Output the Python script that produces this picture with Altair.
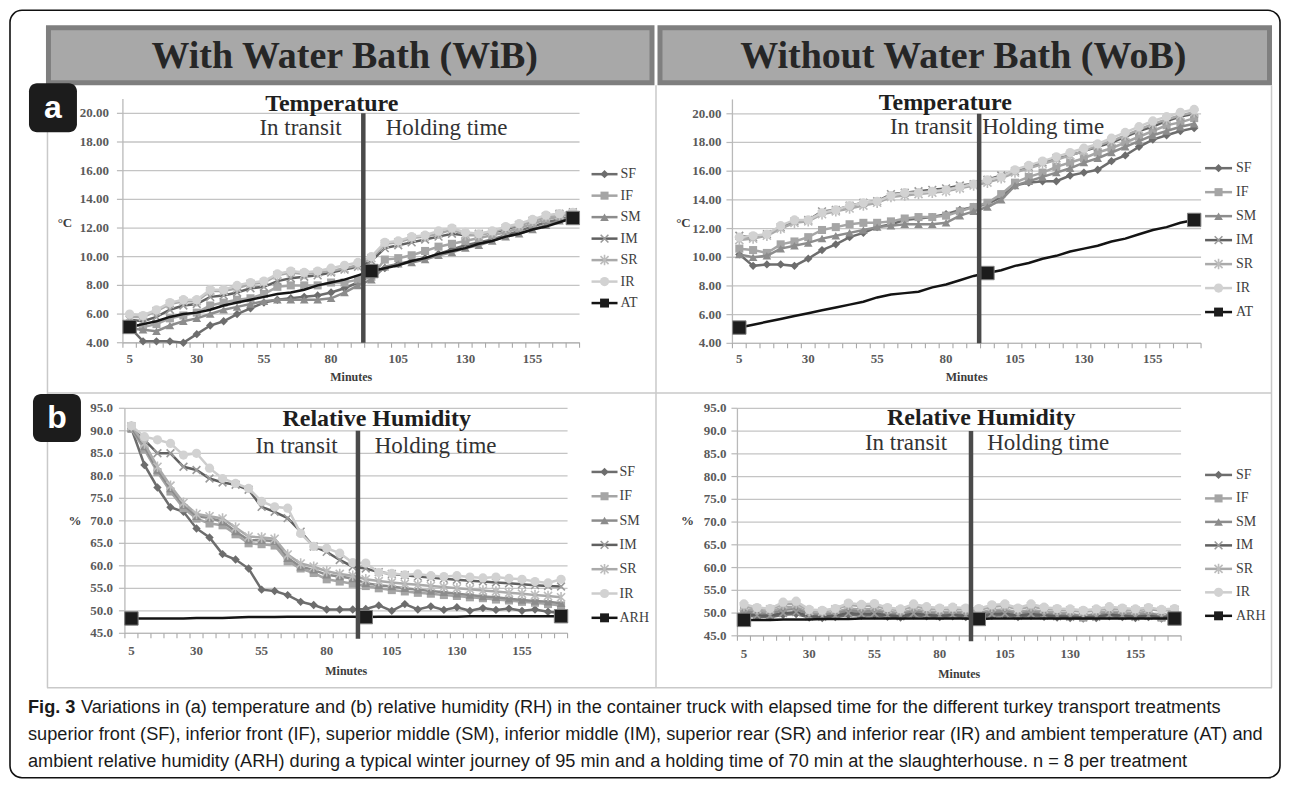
import altair as alt
import pandas as pd

# ---------------- data ----------------
MINUTES = [5, 10, 15, 20, 25, 30, 35, 40, 45, 50, 55, 60, 65, 70, 75, 80, 85,
           90, 95, 100, 105, 110, 115, 120, 125, 130, 135, 140, 145, 150, 155,
           160, 165, 170]
SERIES = ["SF", "IF", "SM", "IM", "SR", "IR"]
AMB_MARK_MINUTES = [5, 95, 170]
TRANSIT_END = 92
X_LABEL_TICKS = [5, 30, 55, 80, 105, 130, 155]
TEMP_TICKS = [4, 6, 8, 10, 12, 14, 16, 18, 20]
RH_TICKS = [45, 50, 55, 60, 65, 70, 75, 80, 85, 90, 95]

# Temperature, with water bath
TL_SF = [5.1, 4.1, 4.1, 4.1, 4.0, 4.6, 5.2, 5.5, 6.0, 6.4, 6.8, 7.0, 7.1, 7.2, 7.3, 7.5, 7.8, 8.2, 8.7, 9.2,
         9.5, 9.7, 9.9, 10.2, 10.5, 10.8, 11.0, 11.2, 11.5, 11.8, 12.1, 12.4, 12.6, 12.8]
TL_IF = [5.3, 5.1, 5.3, 5.7, 5.9, 6.1, 6.6, 6.8, 7.0, 7.1, 7.4, 7.9, 8.0, 8.0, 8.0, 8.2, 8.2, 8.4, 8.6, 9.8,
         9.9, 10.1, 10.4, 10.7, 10.9, 11.1, 11.3, 11.5, 11.7, 12.0, 12.3, 12.6, 12.8, 13.0]
TL_SM = [5.0, 4.9, 4.8, 5.2, 5.5, 5.7, 6.0, 6.3, 6.5, 6.7, 6.9, 7.0, 7.0, 7.0, 7.0, 7.1, 7.5, 8.0, 8.4, 9.3,
         9.5, 9.6, 9.8, 10.1, 10.3, 10.6, 10.8, 11.1, 11.4, 11.6, 11.9, 12.2, 12.5, 12.8]
TL_IM = [5.6, 5.5, 5.8, 6.3, 6.6, 6.7, 7.2, 7.3, 7.5, 7.8, 7.9, 8.3, 8.5, 8.6, 8.7, 8.9, 9.1, 9.3, 9.7, 10.6,
         10.8, 11.0, 11.2, 11.4, 11.6, 11.5, 11.6, 11.7, 11.9, 12.2, 12.5, 12.8, 13.0, 13.1]
TL_SR = [5.8, 5.8, 6.2, 6.7, 6.9, 6.9, 7.6, 7.6, 7.8, 8.1, 8.2, 8.7, 8.9, 8.8, 8.9, 9.0, 9.2, 9.4, 9.9, 10.9,
         11.0, 11.3, 11.4, 11.6, 11.9, 11.5, 11.5, 11.7, 12.0, 12.2, 12.5, 12.8, 12.9, 13.0]
TL_IR = [6.0, 5.9, 6.3, 6.8, 7.0, 7.0, 7.7, 7.7, 8.0, 8.2, 8.3, 8.8, 9.0, 8.9, 9.0, 9.2, 9.4, 9.6, 10.0, 11.0,
         11.1, 11.4, 11.5, 11.8, 12.0, 11.7, 11.6, 11.8, 12.1, 12.3, 12.6, 12.9, 13.0, 13.1]
TL_AT = [5.1, 5.3, 5.5, 5.8, 6.0, 6.1, 6.3, 6.6, 6.8, 7.0, 7.2, 7.4, 7.5, 7.7, 8.0, 8.2, 8.4, 8.7, 9.0, 9.2,
         9.4, 9.7, 9.9, 10.2, 10.4, 10.6, 10.9, 11.1, 11.4, 11.6, 11.9, 12.1, 12.4, 12.7]

# Temperature, without water bath
TR_SF = [10.2, 9.4, 9.5, 9.5, 9.4, 9.9, 10.5, 10.9, 11.4, 11.7, 12.1, 12.3, 12.6, 12.7, 12.8, 13.0, 13.3, 13.5,
         13.7, 14.2, 15.0, 15.2, 15.3, 15.3, 15.7, 15.9, 16.1, 16.7, 17.1, 17.7, 18.2, 18.5, 18.8, 19.0]
TR_IF = [10.6, 10.5, 10.3, 10.9, 11.1, 11.4, 11.9, 12.1, 12.3, 12.4, 12.4, 12.5, 12.7, 12.8, 12.8, 12.9, 13.2,
         13.5, 13.8, 14.4, 15.2, 15.6, 15.9, 16.3, 16.6, 16.9, 17.3, 17.6, 18.0, 18.4, 18.8, 19.2, 19.4, 19.7]
TR_SM = [10.2, 10.0, 10.1, 10.6, 10.8, 11.0, 11.3, 11.5, 11.7, 11.9, 12.1, 12.2, 12.3, 12.3, 12.3, 12.4, 12.9,
         13.2, 13.5, 14.0, 15.0, 15.3, 15.6, 15.9, 16.2, 16.6, 16.9, 17.3, 17.7, 18.1, 18.5, 18.8, 19.1, 19.3]
TR_IM = [11.5, 11.4, 11.6, 12.1, 12.5, 12.6, 13.2, 13.3, 13.6, 13.8, 13.9, 14.4, 14.5, 14.6, 14.7, 14.8, 15.0,
         15.1, 15.4, 15.7, 16.0, 16.3, 16.6, 16.9, 17.1, 17.4, 17.7, 18.0, 18.4, 18.8, 19.1, 19.5, 19.8, 20.0]
TR_SR = [11.2, 11.3, 11.5, 12.0, 12.4, 12.5, 13.0, 13.2, 13.4, 13.6, 13.8, 14.2, 14.3, 14.4, 14.5, 14.6, 14.8,
         15.0, 15.2, 15.5, 15.9, 16.2, 16.5, 16.8, 17.1, 17.4, 17.8, 18.1, 18.5, 18.9, 19.3, 19.6, 19.9, 20.1]
TR_IR = [11.4, 11.5, 11.6, 12.2, 12.6, 12.6, 13.1, 13.3, 13.6, 13.8, 13.9, 14.3, 14.5, 14.5, 14.6, 14.7, 14.9,
         15.1, 15.4, 15.6, 16.1, 16.4, 16.7, 17.0, 17.3, 17.6, 17.9, 18.3, 18.7, 19.1, 19.5, 19.8, 20.1, 20.3]
TR_AT = [5.1, 5.3, 5.5, 5.7, 5.9, 6.1, 6.3, 6.5, 6.7, 6.9, 7.2, 7.4, 7.5, 7.6, 7.9, 8.1, 8.4, 8.7, 8.9, 9.1,
         9.4, 9.6, 9.9, 10.1, 10.4, 10.6, 10.8, 11.1, 11.3, 11.6, 11.9, 12.1, 12.4, 12.6]

# Relative humidity, with water bath
BL_SF = [90.5, 82.4, 77.4, 73.0, 72.0, 68.3, 66.3, 62.6, 61.4, 59.4, 54.7, 54.4, 53.5, 52.0, 51.3, 50.3, 50.3,
         50.3, 50.4, 51.2, 50.0, 51.5, 50.3, 51.0, 50.2, 50.8, 50.0, 50.6, 50.2, 50.5, 50.0, 50.3, 49.8, 49.5]
BL_IF = [90.4, 85.8, 80.8, 76.5, 72.8, 70.5, 69.4, 69.0, 67.0, 65.0, 64.8, 64.5, 61.0, 59.4, 58.4, 57.0, 56.5,
         56.0, 55.5, 55.0, 54.6, 54.3, 54.0, 53.8, 53.5, 53.3, 53.0, 52.8, 52.5, 52.3, 52.0, 51.8, 51.5, 51.2]
BL_SM = [90.6, 86.5, 81.3, 77.2, 73.5, 71.0, 70.6, 69.8, 67.6, 65.7, 65.7, 65.5, 61.7, 59.8, 59.1, 58.0, 57.6,
         57.2, 56.1, 55.7, 55.4, 55.0, 54.7, 54.4, 54.1, 53.8, 53.5, 53.2, 53.0, 52.7, 52.4, 52.2, 52.0, 51.7]
BL_IM = [90.8, 88.0, 85.0, 85.0, 82.0, 81.3, 79.4, 78.5, 78.0, 76.9, 73.1, 72.0, 70.6, 67.6, 64.3, 63.1, 61.3,
         59.8, 59.4, 58.6, 58.2, 57.9, 57.6, 57.4, 57.1, 56.9, 56.7, 56.5, 56.3, 56.1, 55.9, 55.7, 55.5, 55.4]
BL_SR = [91.0, 87.2, 82.0, 77.8, 74.0, 71.5, 71.0, 70.5, 68.5, 66.5, 66.3, 66.0, 62.5, 60.5, 59.8, 58.8, 58.2,
         57.8, 57.0, 56.6, 56.3, 56.0, 55.8, 55.5, 55.3, 55.0, 54.8, 54.5, 54.3, 54.0, 53.8, 53.5, 53.3, 53.0]
BL_IR = [91.1, 88.7, 88.0, 87.2, 84.6, 85.0, 81.7, 79.4, 78.3, 77.2, 74.3, 73.1, 72.8, 67.2, 64.3, 63.9, 62.8,
         60.7, 60.6, 58.5, 58.3, 58.0, 58.2, 57.8, 57.6, 57.8, 57.5, 57.3, 57.5, 57.2, 57.0, 56.5, 56.2, 57.0]
BL_ARH = [48.3, 48.3, 48.3, 48.3, 48.3, 48.4, 48.4, 48.4, 48.5, 48.6, 48.6, 48.6, 48.7, 48.7, 48.7, 48.7, 48.7,
          48.7, 48.6, 48.7, 48.7, 48.7, 48.7, 48.7, 48.7, 48.7, 48.8, 48.8, 48.8, 48.8, 48.8, 48.8, 48.8, 48.8]

# Relative humidity, without water bath
BR_SF = [49.5, 49.2, 49.1, 49.6, 49.8, 49.0, 48.9, 49.1, 49.6, 49.4, 49.5, 49.2, 49.0, 49.5, 49.3, 49.1, 49.3,
         49.1, 49.0, 49.4, 49.5, 49.1, 49.4, 49.2, 49.0, 48.9, 48.8, 48.9, 49.3, 49.1, 48.9, 49.1, 48.8, 49.0]
BR_IF = [50.8, 50.5, 50.3, 51.2, 51.4, 50.0, 49.8, 50.2, 51.0, 50.8, 50.9, 50.3, 50.0, 50.8, 50.4, 50.2, 50.4,
         50.2, 50.1, 50.7, 50.8, 50.2, 50.7, 50.3, 50.1, 50.0, 49.0, 50.0, 50.4, 50.2, 50.0, 50.3, 49.0, 50.1]
BR_SM = [50.4, 50.0, 49.8, 50.7, 50.9, 49.7, 49.5, 49.8, 50.6, 50.3, 50.5, 49.9, 49.7, 50.4, 50.0, 49.8, 50.0,
         49.8, 49.7, 50.3, 50.4, 49.8, 50.3, 49.9, 49.7, 49.6, 49.4, 49.6, 50.0, 49.8, 49.6, 49.8, 49.5, 49.7]
BR_IM = [49.8, 49.5, 49.4, 50.0, 50.2, 49.3, 49.2, 49.4, 50.0, 49.8, 49.9, 49.5, 49.3, 49.9, 49.6, 49.4, 49.6,
         49.4, 49.3, 49.8, 49.9, 49.4, 49.8, 49.5, 49.3, 49.2, 49.1, 49.2, 49.6, 49.4, 49.2, 49.4, 49.1, 49.3]
BR_SR = [51.5, 50.9, 50.8, 51.9, 52.1, 50.5, 50.3, 50.8, 51.8, 51.5, 51.6, 50.9, 50.6, 51.5, 51.0, 50.8, 51.0,
         50.8, 50.7, 51.4, 51.6, 50.8, 51.5, 50.9, 50.7, 50.6, 50.3, 50.6, 51.0, 50.8, 50.6, 50.9, 50.5, 50.7]
BR_IR = [52.0, 51.2, 51.0, 52.4, 52.6, 50.8, 50.6, 51.0, 52.2, 51.9, 52.1, 51.2, 50.9, 52.0, 51.4, 51.1, 51.3,
         51.1, 51.0, 51.8, 52.0, 51.1, 52.0, 51.3, 51.0, 50.9, 50.6, 50.9, 51.4, 51.1, 50.9, 51.2, 50.8, 51.0]
BR_ARH = [48.5, 48.5, 48.5, 48.6, 48.6, 48.6, 48.7, 48.7, 48.7, 48.8, 48.8, 48.8, 48.8, 48.8, 48.8, 48.8, 48.8,
          48.8, 48.7, 48.8, 48.8, 48.8, 48.8, 48.8, 48.8, 48.8, 48.8, 48.8, 48.8, 48.8, 48.8, 48.8, 48.8, 48.8]

HEADER_LEFT = "With Water Bath (WiB)"
HEADER_RIGHT = "Without Water Bath (WoB)"
CAP_BOLD = "Fig. 3"
CAP_L1 = ("Variations in (a) temperature and (b) relative humidity (RH) in the container truck with "
          "elapsed time for the different turkey transport treatments")
CAP_L2 = ("superior front (SF), inferior front (IF), superior middle (SM), inferior middle (IM), superior "
          "rear (SR) and inferior rear (IR) and ambient temperature (AT) and")
CAP_L3 = ("ambient relative humidity (ARH) during a typical winter journey of 95 min and a holding time "
          "of 70 min at the slaughterhouse. n = 8 per treatment")

# ---------------- styling / layout ----------------
SERIF = "Liberation Serif"
SANS = "Liberation Sans"
W, H = 1271, 768
OX, OY = 10, 10


def px(x):
    return x - OX


def py(y):
    return y - OY


X_PATH = "M-1,-1L1,1M-1,1L1,-1"
AST_PATH = "M-1,-1L1,1M-1,1L1,-1M0,-1.3L0,1.3"
STYLE = {
    "SF": dict(line="#6d6d6d", marker="#6d6d6d", shape="diamond", size=70, filled=True),
    "IF": dict(line="#a5a5a5", marker="#a5a5a5", shape="square", size=65, filled=True),
    "SM": dict(line="#8c8c8c", marker="#8c8c8c", shape="triangle-up", size=75, filled=True),
    "IM": dict(line="#606060", marker="#9a9a9a", shape=X_PATH, size=60, filled=False),
    "SR": dict(line="#aaaaaa", marker="#bdbdbd", shape=AST_PATH, size=65, filled=False),
    "IR": dict(line="#cdcdcd", marker="#d2d2d2", shape="circle", size=85, filled=True),
}
AMB_STYLE = dict(line="#141414", marker="#1c1c1c", shape="square", size=180, filled=True)
GRID = "#c4c4c4"
AXIS_C = "#b9b9b9"
LABEL_C = "#5a5a5a"
DUMMY = pd.DataFrame({"k": [0]})

PANELS = [
    dict(data=dict(SF=TL_SF, IF=TL_IF, SM=TL_SM, IM=TL_IM, SR=TL_SR, IR=TL_IR), amb=TL_AT, amb_name="AT",
         x0=123, x1=580, yb=342.7, yt=98.75, ydom=[4, 21], ticks=TEMP_TICKS, fmt=".2f", lpad=8,
         ytitle="°C", ytx=65, yty=223, xlab=16, xtit=34, vtop=20, vbot=4,
         title="Temperature", tcx=332, tby=111, itx=342, hx=386, iby=135,
         ly0=174, ly1=303, lx0=592, lx1=618, ltx=621),
    dict(data=dict(SF=TR_SF, IF=TR_IF, SM=TR_SM, IM=TR_IM, SR=TR_SR, IR=TR_IR), amb=TR_AT, amb_name="AT",
         x0=733, x1=1202, yb=343.3, yt=99.2, ydom=[4, 21], ticks=TEMP_TICKS, fmt=".2f", lpad=5,
         ytitle="°C", ytx=684, yty=223, xlab=16, xtit=34, vtop=20, vbot=4,
         title="Temperature", tcx=946, tby=110, itx=973, hx=983, iby=134,
         ly0=168, ly1=312, lx0=1206, lx1=1233, ltx=1237),
    dict(data=dict(SF=BL_SF, IF=BL_IF, SM=BL_SM, IM=BL_IM, SR=BL_SR, IR=BL_IR), amb=BL_ARH, amb_name="ARH",
         x0=125, x1=568, yb=633.5, yt=408.3, ydom=[45, 95], ticks=RH_TICKS, fmt=".1f", lpad=6,
         ytitle="%", ytx=75, yty=521, xlab=18, xtit=38, vtop=90, vbot=43.8,
         title="Relative Humidity", tcx=377, tby=426, itx=338, hx=375, iby=453,
         ly0=472, ly1=618, lx0=592, lx1=618, ltx=620),
    dict(data=dict(SF=BR_SF, IF=BR_IF, SM=BR_SM, IM=BR_IM, SR=BR_SR, IR=BR_IR), amb=BR_ARH, amb_name="ARH",
         x0=738, x1=1182, yb=636, yt=408.3, ydom=[45, 95], ticks=RH_TICKS, fmt=".1f", lpad=5,
         ytitle="%", ytx=688, yty=521, xlab=18, xtit=38, vtop=90, vbot=43.8,
         title="Relative Humidity", tcx=982, tby=425, itx=948, hx=988, iby=450,
         ly0=475, ly1=616, lx0=1206, lx1=1233, ltx=1237),
]


def txt(text, x, y, size, weight="normal", align="left", baseline="alphabetic", font=SERIF,
        color="#222222", style="normal"):
    return alt.Chart(DUMMY).mark_text(
        text=text, font=font, fontSize=size, fontWeight=weight, align=align,
        baseline=baseline, color=color, fontStyle=style,
    ).encode(x=alt.value(px(x)), y=alt.value(py(y)))


def box(x1, y1, x2, y2, fill, stroke=None, sw=0, r=0):
    kw = dict(fill=fill, cornerRadius=r)
    if stroke:
        kw.update(stroke=stroke, strokeWidth=sw)
    return alt.Chart(DUMMY).mark_rect(**kw).encode(
        x=alt.value(px(x1)), x2=alt.value(px(x2)), y=alt.value(py(y1)), y2=alt.value(py(y2)))


def hrule(x1, x2, y, color, sw):
    return alt.Chart(DUMMY).mark_rule(color=color, strokeWidth=sw).encode(
        x=alt.value(px(x1)), x2=alt.value(px(x2)), y=alt.value(py(y)))


def vrule(x, y1, y2, color, sw):
    return alt.Chart(DUMMY).mark_rule(color=color, strokeWidth=sw).encode(
        x=alt.value(px(x)), y=alt.value(py(y1)), y2=alt.value(py(y2)))


def build_panel(p):
    xs = alt.Scale(domain=[2.5, 172.5], range=[px(p["x0"]), px(p["x1"])], nice=False, zero=False)
    ys = alt.Scale(domain=p["ydom"], range=[py(p["yb"]), py(p["yt"])], nice=False, zero=False)
    layers = []
    grid_df = pd.DataFrame({"tick": p["ticks"]})
    gy = alt.Y("tick:Q", scale=ys, axis=None)
    # horizontal gridlines
    layers.append(alt.Chart(grid_df).mark_rule(color=GRID, strokeWidth=1.3).encode(
        y=gy,
        x=alt.X(datum=2.5, type="quantitative", scale=xs, axis=None),
        x2=alt.X2(datum=172.5),
    ))
    # y tick marks, labels and axis line
    layers.append(alt.Chart(grid_df).mark_rule(color=AXIS_C, strokeWidth=1.2).encode(
        y=gy, x=alt.value(px(p["x0"] - 6)), x2=alt.value(px(p["x0"]))))
    layers.append(alt.Chart(grid_df).transform_calculate(
        lab=f"format(datum.tick, '{p['fmt']}')"
    ).mark_text(align="right", baseline="middle", font=SERIF, fontSize=13, fontWeight="bold",
                color=LABEL_C).encode(y=gy, x=alt.value(px(p["x0"] - 6 - p["lpad"])), text="lab:N"))
    layers.append(alt.Chart(DUMMY).mark_rule(color=AXIS_C, strokeWidth=1.3).encode(
        x=alt.value(px(p["x0"])),
        y=alt.Y(datum=p["ydom"][0], type="quantitative", scale=ys, axis=None),
        y2=alt.Y2(datum=p["ydom"][1])))
    # x axis line, minor tick marks at category boundaries and labels
    layers.append(alt.Chart(DUMMY).mark_rule(color=AXIS_C, strokeWidth=1.3).encode(
        y=alt.Y(datum=p["ydom"][0], type="quantitative", scale=ys, axis=None),
        x=alt.X(datum=2.5, type="quantitative", scale=xs, axis=None),
        x2=alt.X2(datum=172.5)))
    bdf = pd.DataFrame({"b": [m - 2.5 for m in MINUTES] + [MINUTES[-1] + 2.5]})
    layers.append(alt.Chart(bdf).mark_rule(color="#a9a9a9", strokeWidth=1.1).encode(
        x=alt.X("b:Q", scale=xs, axis=None), y=alt.value(py(p["yb"])), y2=alt.value(py(p["yb"]) + 5)))
    xl_df = pd.DataFrame({"t": X_LABEL_TICKS})
    layers.append(alt.Chart(xl_df).mark_text(
        align="center", baseline="middle", font=SERIF, fontSize=13, fontWeight="bold", color=LABEL_C
    ).encode(x=alt.X("t:Q", scale=xs, axis=None), y=alt.value(py(p["yb"] + p["xlab"])), text="t:N"))

    for s in SERIES:
        st = STYLE[s]
        df = pd.DataFrame({"minute": MINUTES, "value": p["data"][s]})
        base = alt.Chart(df).encode(x=alt.X("minute:Q", scale=xs, axis=None),
                                    y=alt.Y("value:Q", scale=ys, axis=None))
        layers.append(base.mark_line(color=st["line"], strokeWidth=2.5))
        layers.append(base.mark_point(shape=st["shape"], size=st["size"], filled=st["filled"],
                                      color=st["marker"], opacity=1, strokeWidth=1.6))
    amb_df = pd.DataFrame({"minute": MINUTES, "value": p["amb"]})
    amb_base = alt.Chart(amb_df).encode(x=alt.X("minute:Q", scale=xs, axis=None),
                                        y=alt.Y("value:Q", scale=ys, axis=None))
    layers.append(amb_base.mark_line(color=AMB_STYLE["line"], strokeWidth=2.5))
    layers.append(amb_base.transform_filter(
        alt.FieldOneOfPredicate(field="minute", oneOf=AMB_MARK_MINUTES)
    ).mark_square(size=AMB_STYLE["size"], color=AMB_STYLE["marker"], stroke="#808080",
                  strokeWidth=1, opacity=1))
    vdf = pd.DataFrame({"minute": [TRANSIT_END]})
    layers.append(alt.Chart(vdf).mark_rule(color="#4a4a4a", strokeWidth=4.5).encode(
        x=alt.X("minute:Q", scale=xs, axis=None),
        y=alt.Y(datum=p["vtop"], type="quantitative", scale=ys, axis=None),
        y2=alt.Y2(datum=p["vbot"]),
    ))
    return alt.layer(*layers)


def build_legend(p):
    names = SERIES + [p["amb_name"]]
    ly = alt.Scale(type="point", domain=names, range=[py(p["ly0"]), py(p["ly1"])], padding=0)
    layers = []
    mid = (p["lx0"] + p["lx1"]) / 2
    for n in names:
        st = STYLE.get(n, AMB_STYLE)
        d = pd.DataFrame({"name": [n]})
        b = alt.Chart(d).encode(y=alt.Y("name:N", scale=ly, axis=None))
        layers.append(b.mark_rule(color=st["line"], strokeWidth=2.5).encode(
            x=alt.value(px(p["lx0"])), x2=alt.value(px(p["lx1"]))))
        size = st["size"] if n in STYLE else 80
        layers.append(b.mark_point(shape=st["shape"], size=size, filled=st["filled"], color=st["marker"],
                                   opacity=1, strokeWidth=1.6).encode(x=alt.value(px(mid))))
        layers.append(b.mark_text(align="left", baseline="middle", font=SERIF, fontSize=14,
                                  color="#404040").encode(x=alt.value(px(p["ltx"])), text="name:N"))
    return alt.layer(*layers)


# ---------------- assemble ----------------
back = [
    box(48.5, 27.5, 652.5, 82.5, "#a8a8a8", "#7f7f7f", 5),
    box(660.5, 27.5, 1270.5, 82.5, "#a8a8a8", "#7f7f7f", 5),
    txt(HEADER_LEFT, 345, 68, 38, "bold", "center", color="#262626"),
    txt(HEADER_RIGHT, 964, 68, 38, "bold", "center", color="#262626"),
    vrule(47.5, 85, 688, "#c9c9c9", 1.5),
    vrule(656.5, 85, 688, "#c9c9c9", 1.5),
    vrule(1272.5, 85, 688, "#c9c9c9", 1.5),
    hrule(47, 1273, 393, "#c9c9c9", 1.5),
    hrule(47, 1273, 688, "#c9c9c9", 1.5),
]

panels = []
for p in PANELS:
    panels.append(build_panel(p))
    panels.append(build_legend(p))

front = []
for p in PANELS:
    front.append(txt(p["title"], p["tcx"], p["tby"], 24, "bold", "center", color="#1e1e1e"))
    front.append(txt("In transit", p["itx"], p["iby"], 23, "normal", "right", color="#333333"))
    front.append(txt("Holding time", p["hx"], p["iby"], 23, "normal", "left", color="#333333"))
    front.append(txt(p["ytitle"], p["ytx"], p["yty"], 13, "bold", "center", "middle", color="#3c3c3c"))
    front.append(txt("Minutes", (p["x0"] + p["x1"]) / 2, p["yb"] + p["xtit"], 12, "bold", "center",
                     "middle", color="#3c3c3c"))

CAP_SIZE = 18.2
front += [
    box(29, 83, 77, 132, "#1c1c1c", r=8),
    txt("a", 53, 108, 32, "bold", "center", "middle", SANS, "#ffffff"),
    box(33, 394, 81, 442, "#1c1c1c", r=8),
    txt("b", 57, 418, 32, "bold", "center", "middle", SANS, "#ffffff"),
    txt(CAP_BOLD, 28, 713, CAP_SIZE, "bold", "left", font=SANS, color="#1a1a1a"),
    txt(CAP_L1, 81, 713, CAP_SIZE, "normal", "left", font=SANS, color="#1a1a1a"),
    txt(CAP_L2, 28, 740, CAP_SIZE, "normal", "left", font=SANS, color="#1a1a1a"),
    txt(CAP_L3, 28, 767, CAP_SIZE, "normal", "left", font=SANS, color="#1a1a1a"),
]

chart = alt.layer(*back, *panels, *front).resolve_scale(
    x="independent", y="independent"
).properties(
    width=W, height=H, padding=2, autosize=alt.AutoSizeParams(type="none"), background="white"
).configure_view(
    stroke="#111111", strokeWidth=1.6, cornerRadius=12
)

chart.save("out.html", embed_options={"renderer": "svg", "actions": False})
